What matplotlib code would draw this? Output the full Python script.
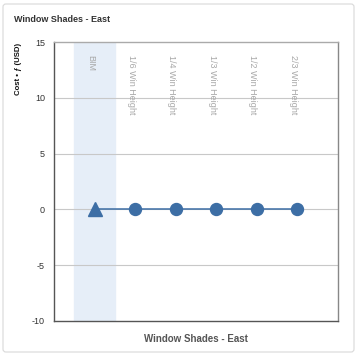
import matplotlib.pyplot as plt
from matplotlib.patches import FancyBboxPatch

plt.rcParams['font.family'] = ['Liberation Sans', 'DejaVu Sans']
plt.rcParams['axes.unicode_minus'] = False

categories = ['BIM', '1/6 Win Height', '1/4 Win Height', '1/3 Win Height',
              '1/2 Win Height', '2/3 Win Height']
cost = [0, 0, 0, 0, 0, 0]
markers = ['^', 'o', 'o', 'o', 'o', 'o']
yticks = [-10, -5, 0, 5, 10, 15]

blue = '#3d6ea5'

fig = plt.figure(figsize=(3.58, 3.55), dpi=100)

# card border
card = FancyBboxPatch((3/358, 3/355), 351/358, 348/355,
                      boxstyle='round,pad=0,rounding_size=0.008',
                      transform=fig.transFigure, facecolor='white',
                      edgecolor='#d9d9d9', linewidth=0.8, zorder=-5)
fig.patches.append(card)

ax = fig.add_axes([54/358, 34/355, 284/358, 279/355], zorder=2)
ax.set_facecolor('none')

xs = list(range(len(categories)))
ax.axvspan(-0.5, 0.5, color='#e6eef8', zorder=0)
for yv in yticks[1:-1]:
    ax.axhline(yv, color='#c8c8c8', linewidth=0.8, zorder=1)

ax.plot(xs, cost, color=blue, linewidth=1.1, zorder=2)
for x, y, m in zip(xs, cost, markers):
    ms = 10 if m == '^' else 8.6
    ax.plot(x, y, marker=m, markersize=ms, color=blue, linestyle='none', zorder=3)

for x, lab in zip(xs, categories):
    ax.text(x - 0.1, 13.8, lab, rotation=-90, ha='center', va='top',
            fontsize=6.5, color='#a8a8a8')

ax.set_xlim(-1, 6)
ax.set_ylim(-10, 15)
ax.set_yticks(yticks)
ax.set_xticks([])
ax.tick_params(axis='y', length=0, labelsize=6.5, labelcolor='#333333', pad=6.5)

ax.spines['left'].set_color('#555555')
ax.spines['bottom'].set_color('#555555')
ax.spines['top'].set_color('#aaaaaa')
ax.spines['right'].set_color('#888888')
for s in ax.spines.values():
    s.set_linewidth(1.0)

ax.set_xlabel('Window Shades - East', fontsize=7, fontweight='bold',
              color='#555555', labelpad=9)

fig.text(19/358, 1 - 43/355, 'Cost • ƒ (USD)', fontsize=5.6, fontweight='bold',
         rotation=90, ha='center', va='top', color='#111111')
fig.text(14/358, 1 - 20/355, 'Window Shades - East', fontsize=6.5,
         fontweight='bold', color='#333333', va='center', ha='left')

fig.savefig('out.png', dpi=100)
